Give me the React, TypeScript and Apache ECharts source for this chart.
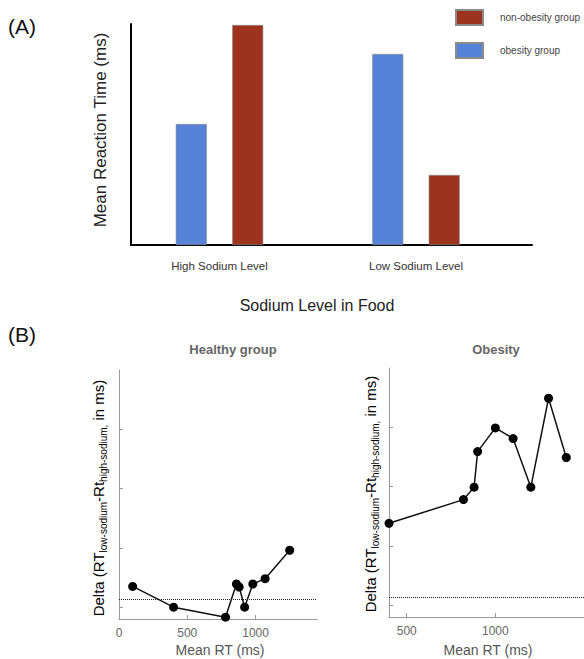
import React, { useEffect, useRef } from "react";
import * as echarts from "echarts";

// ---- Panel A data ----
const sodiumCategories = ["High Sodium Level", "Low Sodium Level"];
const obesityMeans = [121, 191];
const nonObesityMeans = [220, 70];

// ---- Panel B data ----
const healthyRT = [100, 400, 780, 860, 880, 920, 980, 1070, 1250];
const healthyDelta = [0.35, 0.0, -0.17, 0.39, 0.34, 0.0, 0.39, 0.48, 0.96];
const obesityRT = [400, 820, 880, 900, 1000, 1100, 1200, 1300, 1400];
const obesityDelta = [1.38, 1.78, 1.99, 2.59, 2.99, 2.81, 1.99, 3.49, 2.49];
const zeroLine = 0.13;
const deltaTicks = [0, 1, 2, 3];
const healthyXTicks = [0, 500, 1000];
const obesityXTicks = [500, 1000];

const FONT = "'Liberation Sans', Arial, sans-serif";
const BLUE = "#5682d8";
const RED = "#9d331f";

function pairs(xs: number[], ys: number[]) {
  return xs.map((x, i) => [x, ys[i]]);
}

export default function App() {
  const ref = useRef<HTMLDivElement>(null);
  useEffect(() => {
    if (!ref.current) return;
    const chart = echarts.init(ref.current, undefined, { renderer: "svg" });
    const grayAxis = { lineStyle: { color: "#999", width: 1 } };
    const deltaY = (gi: number) => ({
      type: "value",
      gridIndex: gi,
      min: -0.2,
      max: 4,
      axisLine: { show: true, onZero: false, ...grayAxis },
      axisTick: { show: true, inside: true, length: 4, customValues: deltaTicks, lineStyle: { color: "#999" } },
      axisLabel: { show: false },
      splitLine: { show: false },
    });
    const subRich = {
      a: { fontSize: 15, fontFamily: FONT, color: "#444", lineHeight: 20, verticalAlign: "middle" },
      s: { fontSize: 10, fontFamily: FONT, color: "#444", lineHeight: 10, verticalAlign: "bottom" },
    };
    const deltaText = "{a|Delta (RT}{s|low-sodium}{a|-Rt}{s|high-sodium,}{a| in ms)}";
    const plainNum = (v: number) => String(v);
    const option: any = {
      animation: false,
      backgroundColor: "#fff",
      textStyle: { fontFamily: FONT },
      legend: {
        data: ["non-obesity group", "obesity group"],
        orient: "vertical",
        left: 450,
        top: 4,
        itemWidth: 27,
        itemHeight: 15,
        itemGap: 16,
        icon: "rect",
        textStyle: { fontSize: 10, color: "#444", fontFamily: FONT, padding: [0, 0, 0, 12] },
      },
      grid: [
        { left: 131, right: 52, top: 24, height: 221 },
        { left: 121.25, width: 393, top: 24, height: 221 },
        { left: 119, width: 198, top: 370, height: 249 },
        { left: 389, right: 0, top: 368, height: 249 },
      ],
      xAxis: [
        {
          type: "value", gridIndex: 0, min: 0, max: 1,
          axisLine: { show: true, onZero: false, lineStyle: { color: "#000", width: 2 } },
          axisTick: { show: false }, axisLabel: { show: false }, splitLine: { show: false },
        },
        {
          type: "category", gridIndex: 1, data: sodiumCategories,
          axisLine: { show: false }, axisTick: { show: false },
          axisLabel: { fontSize: 11.5, color: "#333", margin: 15, fontFamily: FONT },
        },
        {
          type: "value", gridIndex: 2, min: 0, max: 1450,
          axisLine: { show: true, onZero: false, ...grayAxis },
          axisTick: { show: true, inside: true, length: 4, customValues: healthyXTicks, lineStyle: { color: "#999" } },
          axisLabel: { customValues: healthyXTicks, formatter: plainNum, fontSize: 12, color: "#666", margin: 8, fontFamily: FONT },
          splitLine: { show: false },
        },
        {
          type: "value", gridIndex: 3, min: 400, max: 1500,
          axisLine: { show: true, onZero: false, ...grayAxis },
          axisTick: { show: true, inside: true, length: 4, customValues: obesityXTicks, lineStyle: { color: "#999" } },
          axisLabel: { customValues: obesityXTicks, formatter: plainNum, fontSize: 12, color: "#666", margin: 8, fontFamily: FONT },
          splitLine: { show: false },
        },
      ],
      yAxis: [
        {
          type: "value", gridIndex: 0, min: 0, max: 221,
          axisLine: { show: true, onZero: false, lineStyle: { color: "#000", width: 2 } },
          axisTick: { show: false }, axisLabel: { show: false }, splitLine: { show: false },
        },
        {
          type: "value", gridIndex: 1, min: 0, max: 221, show: false, splitLine: { show: false },
        },
        deltaY(2),
        deltaY(3),
      ],
      series: [
        {
          name: "obesity group", type: "bar", xAxisIndex: 1, yAxisIndex: 1,
          data: obesityMeans, barWidth: 31, barGap: "82%",
          itemStyle: { color: BLUE, borderColor: "#8a8a8a", borderWidth: 0.6 },
        },
        {
          name: "non-obesity group", type: "bar", xAxisIndex: 1, yAxisIndex: 1,
          data: nonObesityMeans, barWidth: 31, barGap: "82%",
          itemStyle: { color: RED, borderColor: "#8a8a8a", borderWidth: 0.6 },
        },
        {
          type: "line", xAxisIndex: 2, yAxisIndex: 2, data: pairs(healthyRT, healthyDelta),
          symbol: "circle", symbolSize: 9, itemStyle: { color: "#000" },
          lineStyle: { color: "#111", width: 1.5 },
          markLine: {
            silent: true, symbol: "none", label: { show: false },
            lineStyle: { type: "dotted", color: "#222", width: 1 },
            data: [{ yAxis: zeroLine }],
          },
        },
        {
          type: "line", xAxisIndex: 3, yAxisIndex: 3, data: pairs(obesityRT, obesityDelta),
          symbol: "circle", symbolSize: 9, itemStyle: { color: "#000" },
          lineStyle: { color: "#111", width: 1.5 },
          markLine: {
            silent: true, symbol: "none", label: { show: false },
            lineStyle: { type: "dotted", color: "#222", width: 1 },
            data: [{ yAxis: zeroLine }],
          },
        },
      ],
      graphic: [
        { type: "text", x: 8, y: 26, style: { text: "(A)", fontSize: 21, fontFamily: FONT, fill: "#111", verticalAlign: "middle" } },
        { type: "text", x: 8, y: 334, style: { text: "(B)", fontSize: 21, fontFamily: FONT, fill: "#111", verticalAlign: "middle" } },
        {
          type: "text", x: 100, y: 130, rotation: Math.PI / 2,
          style: { text: "Mean Reaction Time (ms)", fontSize: 17, fontFamily: FONT, fill: "#222", align: "center", verticalAlign: "middle" },
        },
        {
          type: "text", x: 317, y: 305,
          style: { text: "Sodium Level in Food", fontSize: 16, fontFamily: FONT, fill: "#222", align: "center", verticalAlign: "middle" },
        },
        {
          type: "text", x: 233, y: 349,
          style: { text: "Healthy group", fontSize: 13, fontWeight: "bold", fontFamily: FONT, fill: "#666", align: "center", verticalAlign: "middle" },
        },
        {
          type: "text", x: 496, y: 349,
          style: { text: "Obesity", fontSize: 13, fontWeight: "bold", fontFamily: FONT, fill: "#666", align: "center", verticalAlign: "middle" },
        },
        {
          type: "text", x: 220, y: 650,
          style: { text: "Mean RT (ms)", fontSize: 14, fontFamily: FONT, fill: "#555", align: "center", verticalAlign: "middle" },
        },
        {
          type: "text", x: 488, y: 650,
          style: { text: "Mean RT (ms)", fontSize: 14, fontFamily: FONT, fill: "#555", align: "center", verticalAlign: "middle" },
        },
        {
          type: "text", x: 98, y: 498, rotation: Math.PI / 2,
          style: { text: deltaText, rich: subRich, align: "center", verticalAlign: "middle" },
        },
        {
          type: "text", x: 370, y: 494, rotation: Math.PI / 2,
          style: { text: deltaText, rich: subRich, align: "center", verticalAlign: "middle" },
        },
      ],
    };
    chart.setOption(option);
    return () => chart.dispose();
  }, []);
  return (
    <div
      ref={ref}
      style={{ position: "fixed", left: 0, top: 0, width: 584, height: 659, background: "#fff" }}
    />
  );
}
